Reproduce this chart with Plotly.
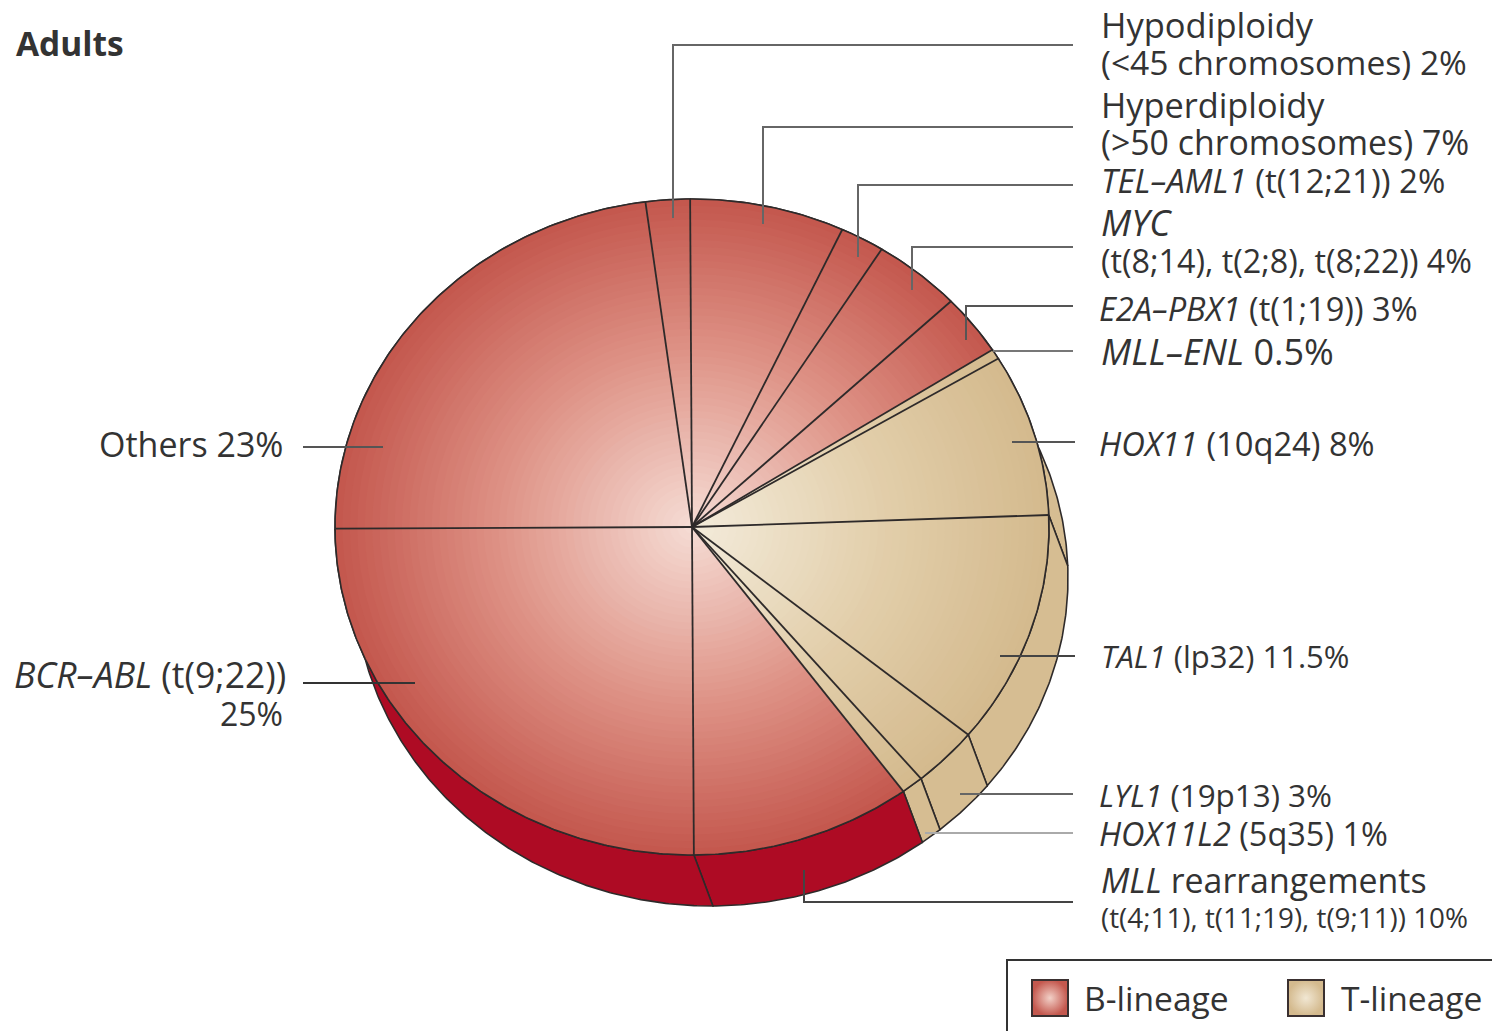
import numpy as np
import plotly.graph_objects as go

# Subtypes of adult acute lymphoblastic leukaemia, clockwise from the top
categories = ["Hypodiploidy", "Hyperdiploidy", "TEL-AML1", "MYC", "E2A-PBX1", "MLL-ENL",
              "HOX11", "TAL1", "LYL1", "HOX11L2", "MLL rearrangements", "BCR-ABL", "Others"]
values = [2, 7, 2, 4, 3, 0.5, 8, 11.5, 3, 1, 10, 25, 23]
lineages = ["B", "B", "B", "B", "B", "T", "T", "T", "T", "T", "B", "B", "B"]

# Tilted-disc geometry, in page pixels
CX, CY, RX, RY = 692, 527, 357, 328
DX, DY = 19, 51
START = -7.5
LEVELS = 48

FACE = {"B": {"edge": (196, 88, 78), "mid": (222, 146, 134), "centre": (246, 222, 214)},
        "T": {"edge": (212, 186, 142), "mid": (226, 206, 170), "centre": (244, 236, 220)}}
RIM = {"B": "#AE0B24", "T": "#D6BD92"}
INK = "#2E2A2A"
TEXT = "#333333"
FONT = "Open Sans"

fractions = np.array(values) / sum(values)
edges = START + np.concatenate([[0], np.cumsum(fractions)]) * 360


def arc(a0, a1, scale=1.0, dx=0.0, dy=0.0):
    th = np.radians(np.linspace(a0, a1, max(int(abs(a1 - a0) * 2), 2)))
    return CX + dx + scale * RX * np.sin(th), CY + dy - scale * RY * np.cos(th)


def ramp(stops, t):
    a, b = (stops["centre"], stops["mid"]) if t < 0.55 else (stops["mid"], stops["edge"])
    u = t / 0.55 if t < 0.55 else (t - 0.55) / 0.45
    return "rgb(%d,%d,%d)" % tuple(round(p + (q - p) * u) for p, q in zip(a, b))


fig = go.Figure()

# Side wall of the disc, one panel per slice
for name, lin, a0, a1 in zip(categories, lineages, edges[:-1], edges[1:]):
    xa, ya = arc(a0, a1)
    xb, yb = arc(a1, a0, dx=DX, dy=DY)
    fig.add_trace(go.Scatter(x=np.r_[xa, xb, xa[0]], y=np.r_[ya, yb, ya[0]], mode="lines",
                             fill="toself", fillcolor=RIM[lin],
                             line=dict(color=INK, width=1.6), hoverinfo="skip", showlegend=False))

# Top face: nested wedges stepping from the rim colour to the pale centre
for level in range(LEVELS, 0, -1):
    scale = level / LEVELS
    for lin in ("B", "T"):
        xs, ys = [], []
        for l, a0, a1 in zip(lineages, edges[:-1], edges[1:]):
            if l == lin:
                xa, ya = arc(a0, a1, scale)
                xs += [CX, *xa, CX, None]
                ys += [CY, *ya, CY, None]
        fig.add_trace(go.Scatter(x=xs, y=ys, mode="lines", fill="toself",
                                 fillcolor=ramp(FACE[lin], scale), line=dict(width=0),
                                 hoverinfo="skip", showlegend=False))

# Slice boundaries and the face outline
xo, yo = arc(0, 360)
fig.add_trace(go.Scatter(x=xo, y=yo, mode="lines", line=dict(color=INK, width=1.6),
                         hoverinfo="skip", showlegend=False))
sx, sy = [], []
for a in edges[:-1]:
    xa, ya = arc(a, a + 0.01)
    sx += [CX, xa[0], None]
    sy += [CY, ya[0], None]
fig.add_trace(go.Scatter(x=sx, y=sy, mode="lines", line=dict(color=INK, width=1.8),
                         hoverinfo="skip", showlegend=False))

# Leader lines from the labels into the slices
leaders = [
    ([1073, 673, 673], [45, 45, 218], "#666666"),
    ([1073, 763, 763], [127, 127, 224], "#666666"),
    ([1073, 858, 858], [185, 185, 257], "#666666"),
    ([1073, 912, 912], [247, 247, 290], "#666666"),
    ([1073, 966, 966], [306, 306, 340], "#555555"),
    ([1073, 993], [351, 351], "#777777"),
    ([1075, 1012], [442, 442], "#555555"),
    ([1075, 1000], [656, 656], "#444444"),
    ([1073, 960], [794, 794], "#666666"),
    ([1073, 925], [833, 833], "#AAAAAA"),
    ([1073, 804, 804], [902, 902, 870], "#444444"),
    ([303, 383], [447, 447], "#555555"),
    ([303, 415], [683, 683], "#333333"),
]
for lx, ly, col in leaders:
    fig.add_trace(go.Scatter(x=lx, y=ly, mode="lines", line=dict(color=col, width=2),
                             hoverinfo="skip", showlegend=False))

# Legend swatches
for sw_x, lin in ((1050, "B"), (1306, "T")):
    fig.add_trace(go.Scatter(x=[sw_x], y=[998], mode="markers", hoverinfo="skip", showlegend=False,
                             marker=dict(symbol="square", size=36,
                                         color=ramp(FACE[lin], 1.0),
                                         gradient=dict(type="radial", color=ramp(FACE[lin], 0.1)),
                                         line=dict(color="#3A3030", width=2))))

labels = [
    (1100, 24, "left", "Hypodiploidy", 34.5),
    (1100, 62, "left", "(&lt;45 chromosomes) 2%", 33.6),
    (1100, 104, "left", "Hyperdiploidy", 34.3),
    (1100, 142, "left", "(&gt;50 chromosomes) 7%", 33.8),
    (1100, 180, "left", "<i>TEL–AML1</i> (t(12;21)) 2%", 33.1),
    (1100, 222, "left", "<i>MYC</i>", 36),
    (1100, 260, "left", "(t(8;14), t(2;8), t(8;22)) 4%", 32.3),
    (1098, 308, "left", "<i>E2A–PBX1</i> (t(1;19)) 3%", 32.6),
    (1100, 351, "left", "<i>MLL–ENL</i> 0.5%", 36),
    (1098, 443, "left", "<i>HOX11</i> (10q24) 8%", 32.7),
    (1100, 656, "left", "<i>TAL1</i> (lp32) 11.5%", 31),
    (1098, 794, "left", "<i>LYL1</i> (19p13) 3%", 31.4),
    (1098, 833, "left", "<i>HOX11L2</i> (5q35) 1%", 32.5),
    (1100, 880, "left", "<i>MLL</i> rearrangements", 33.9),
    (1100, 917, "left", "(t(4;11), t(11;19), t(9;11)) 10%", 27.8),
    (284, 444, "right", "Others 23%", 34),
    (287, 674, "right", "<i>BCR–ABL</i> (t(9;22))", 35.6),
    (284, 713, "right", "25%", 32),
    (1083, 998, "left", "B-lineage", 33.6),
    (1340, 998, "left", "T-lineage", 33.6),
    (15, 43, "left", "<b>Adults</b>", 33.5),
]
annotations = [dict(x=x, y=y, xref="x", yref="y", xanchor=anchor, yanchor="middle", text=t,
                    showarrow=False, borderpad=0, font=dict(family=FONT, size=s, color=TEXT))
               for x, y, anchor, t, s in labels]

fig.update_layout(
    width=1492, height=1031, margin=dict(l=0, r=0, t=0, b=0),
    paper_bgcolor="white", plot_bgcolor="white", showlegend=False,
    xaxis=dict(range=[0, 1492], visible=False, fixedrange=True),
    yaxis=dict(range=[1031, 0], visible=False, fixedrange=True),
    annotations=annotations,
    shapes=[dict(type="path", path="M 1007 1031 L 1007 960 L 1492 960", xref="x", yref="y",
                 line=dict(color="#333333", width=2))],
)
fig.write_html("out.html", config={"displayModeBar": False})
